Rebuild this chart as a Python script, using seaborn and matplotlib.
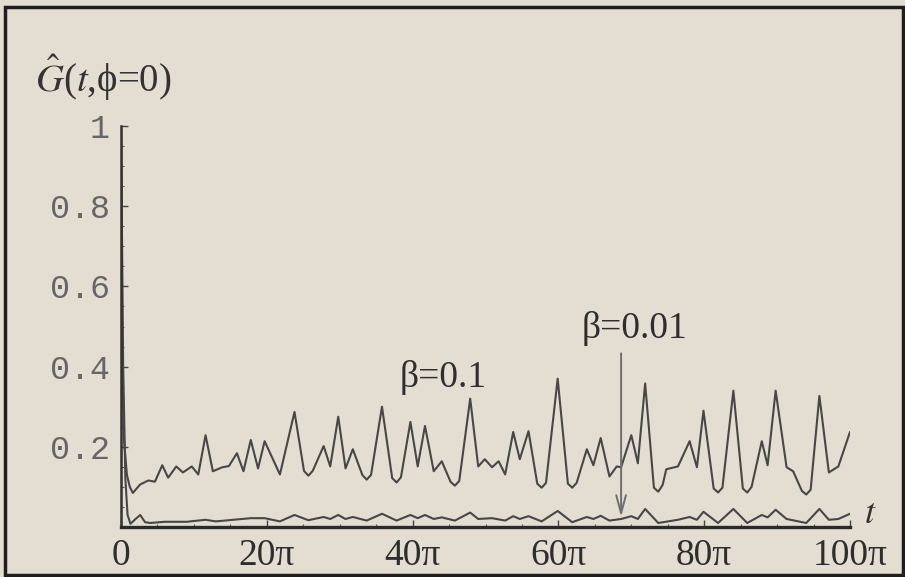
import numpy as np
import pandas as pd
import matplotlib
from matplotlib import pyplot as plt
from matplotlib.patches import Rectangle
from matplotlib.ticker import MultipleLocator
import seaborn as sns

sns.set_style("ticks")
matplotlib.rcParams['mathtext.fontset'] = 'stix'

BG = '#e4ded2'

# values, t in units of pi
t_b1 = [0, 0.15, 0.4, 0.81, 1.21, 1.62, 2.63, 3.74, 4.65, 5.66, 6.47, 7.58, 8.49, 9.71,
        10.6, 11.6, 12.6, 13.9, 14.8, 15.9, 16.8, 17.8, 18.8, 19.7, 21.8, 23.8, 25.1,
        25.7, 26.3, 27.8, 28.7, 29.8, 30.8, 31.8, 33.1, 33.7, 34.3, 35.8, 37.2, 37.8,
        38.4, 39.7, 40.7, 41.7, 42.9, 44.0, 45.2, 45.8, 46.4, 47.9, 49.0, 49.9, 50.9,
        51.8, 52.7, 53.8, 54.7, 55.9, 57.1, 57.7, 58.3, 59.9, 61.3, 61.9, 62.5, 63.9,
        64.8, 65.8, 67.0, 68.0, 68.6, 70.0, 70.9, 71.9, 73.1, 73.7, 74.3, 74.8, 76.4,
        78.0, 79.0, 79.9, 81.3, 81.9, 82.5, 84.0, 85.3, 85.9, 86.5, 87.9, 88.7, 89.8,
        91.3, 92.2, 93.4, 94.0, 94.6, 95.8, 97.1, 98.4, 100.0]
g_b1 = [1.0, 0.45, 0.22, 0.13, 0.10, 0.085, 0.106, 0.116, 0.113, 0.154, 0.123, 0.151,
        0.136, 0.151, 0.131, 0.229, 0.139, 0.149, 0.152, 0.184, 0.139, 0.217, 0.146,
        0.214, 0.131, 0.287, 0.14, 0.128, 0.14, 0.202, 0.151, 0.275, 0.146, 0.194,
        0.13, 0.118, 0.13, 0.300, 0.122, 0.111, 0.124, 0.262, 0.151, 0.252, 0.139,
        0.164, 0.113, 0.103, 0.115, 0.320, 0.151, 0.169, 0.149, 0.164, 0.131, 0.237,
        0.169, 0.239, 0.108, 0.098, 0.11, 0.370, 0.108, 0.098, 0.11, 0.194, 0.154,
        0.222, 0.126, 0.151, 0.149, 0.229, 0.159, 0.358, 0.098, 0.088, 0.105, 0.144,
        0.151, 0.214, 0.149, 0.290, 0.096, 0.086, 0.098, 0.340, 0.096, 0.086, 0.10,
        0.214, 0.154, 0.340, 0.149, 0.139, 0.09, 0.081, 0.093, 0.327, 0.136, 0.151,
        0.237]

t_b2 = [0, 0.3, 0.6, 0.9, 1.3, 2.0, 2.63, 3.3, 4.0, 6.0, 9.0, 11.6, 13.0, 17.8, 19.7,
        21.8, 23.8, 25.7, 27.8, 28.7, 29.8, 30.8, 31.8, 33.7, 35.8, 37.8, 39.7, 40.7,
        41.7, 42.9, 44.0, 45.8, 47.9, 49.0, 50.9, 52.7, 53.8, 54.7, 55.9, 57.7, 59.9,
        61.9, 63.9, 64.8, 65.8, 67.0, 68.6, 70.0, 70.9, 71.9, 73.7, 76.4, 78.0, 79.0,
        79.9, 81.9, 84.0, 85.9, 87.9, 88.7, 89.8, 91.3, 94.0, 95.8, 97.1, 98.4, 100.0]
g_b2 = [1.0, 0.4, 0.12, 0.03, 0.008, 0.02, 0.03, 0.012, 0.01, 0.013, 0.013, 0.018,
        0.014, 0.022, 0.022, 0.014, 0.03, 0.017, 0.025, 0.02, 0.03, 0.02, 0.025, 0.016,
        0.033, 0.016, 0.03, 0.022, 0.03, 0.02, 0.024, 0.016, 0.036, 0.02, 0.022, 0.016,
        0.027, 0.02, 0.027, 0.014, 0.04, 0.012, 0.025, 0.02, 0.028, 0.016, 0.02, 0.027,
        0.02, 0.045, 0.01, 0.018, 0.025, 0.018, 0.038, 0.01, 0.045, 0.01, 0.03, 0.024,
        0.043, 0.02, 0.01, 0.045, 0.018, 0.02, 0.033]

x_ticks = [0, 20, 40, 60, 80, 100]
x_labels = ['0', '20π', '40π', '60π', '80π', '100π']
y_ticks = [0.2, 0.4, 0.6, 0.8, 1.0]
y_labels = ['0.2', '0.4', '0.6', '0.8', '1']

fig = plt.figure(figsize=(9.05, 5.77), dpi=100, facecolor=BG)
ax = fig.add_axes([121 / 905, 1 - 527 / 577, (850 - 121) / 905, (527 - 126) / 577])
ax.set_facecolor(BG)

sns.lineplot(x=t_b1, y=g_b1, ax=ax, color='#474747', lw=1.5)
sns.lineplot(x=t_b2, y=g_b2, ax=ax, color='#474747', lw=1.5)

ax.set_xlim(0, 100)
ax.set_ylim(0, 1)
for s in ['top', 'right']:
    ax.spines[s].set_visible(False)
ax.spines['bottom'].set_color('#2a2a2a')
ax.spines['bottom'].set_linewidth(2.4)
ax.spines['left'].set_color('#333333')
ax.spines['left'].set_linewidth(1.8)

ax.set_xticks(x_ticks)
ax.set_xticklabels(x_labels, family='Liberation Serif', fontsize=27, color='#2e2e2e')
ax.set_yticks(y_ticks)
ax.set_yticklabels(y_labels, family='Liberation Mono', fontsize=24, color='#666666')
ax.xaxis.set_minor_locator(MultipleLocator(5))
ax.yaxis.set_minor_locator(MultipleLocator(0.05))
ax.tick_params(axis='both', which='major', direction='in', length=5, width=1, color='#444444')
ax.tick_params(axis='both', which='minor', direction='in', length=2.5, width=0.8, color='#555555')
ax.tick_params(axis='x', pad=8)
ax.tick_params(axis='y', pad=8)
ax.set_xlabel('')
ax.set_ylabel('')

ax.text(44.2, 0.374, 'β=0.1', family='Liberation Serif', fontsize=27, color='#2e2e2e',
        ha='center', va='center')
ax.text(70.5, 0.496, 'β=0.01', family='Liberation Serif', fontsize=27, color='#2e2e2e',
        ha='center', va='center')
ax.annotate('', xy=(68.6, 0.018), xytext=(68.6, 0.44),
            arrowprops=dict(arrowstyle='->,head_length=1.3,head_width=0.35',
                            color='#6e6e6e', lw=1.4))

fig.text(35 / 905, 1 - 78 / 577, r'$\hat{G}$($t$,ϕ=0)',
         family=['Liberation Serif', 'DejaVu Serif'],
         fontsize=28, color='#333333', ha='left', va='center')
fig.text(870 / 905, 1 - 513 / 577, r'$t$', fontsize=26, color='#333333',
         ha='center', va='center')

fig.patches.append(Rectangle((5 / 905, 2 / 577), 898 / 905, 568 / 577,
                             transform=fig.transFigure, fill=False,
                             edgecolor='#1e1e1e', lw=2.5))

plt.savefig('out.png', dpi=100, facecolor=BG)
